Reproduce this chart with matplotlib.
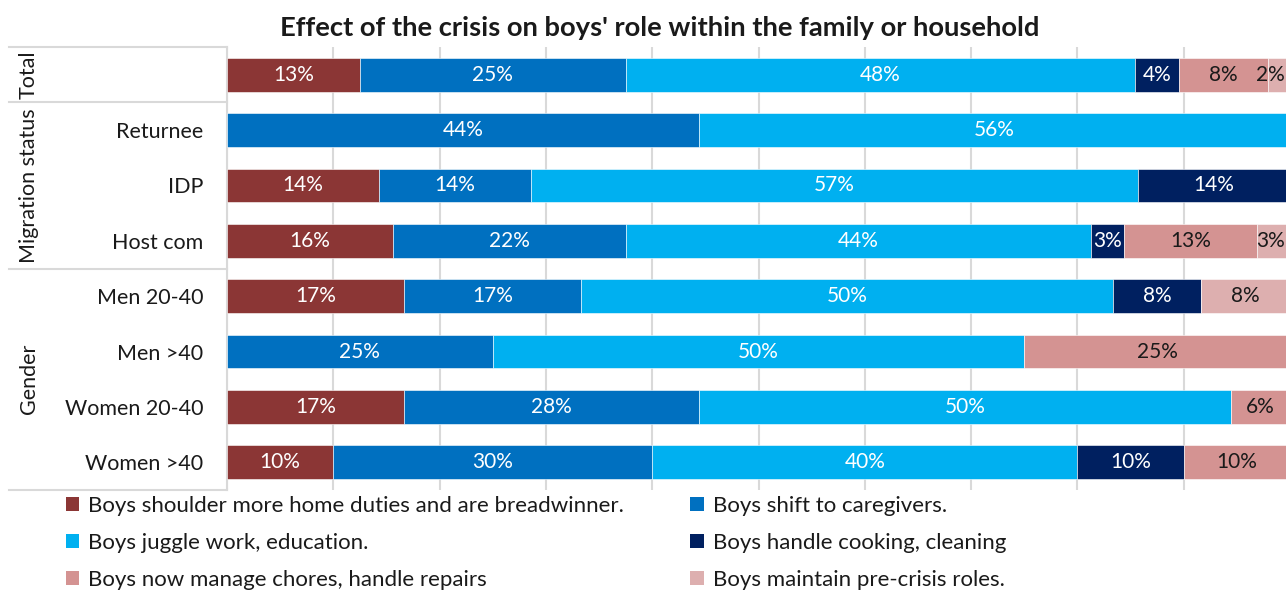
import matplotlib
matplotlib.use("Agg")
import matplotlib.pyplot as plt
import matplotlib.transforms as mtransforms
from matplotlib.patches import Patch
import numpy as np

plt.rcParams['font.family'] = ['Lato', 'DejaVu Sans']

title = "Effect of the crisis on boys' role within the family or household"

rows = ["Total", "Returnee", "IDP", "Host com",
        "Men 20-40", "Men >40", "Women 20-40", "Women >40"]

series = ["Boys shoulder more home duties and are breadwinner.",
          "Boys shift to caregivers.",
          "Boys juggle work, education.",
          "Boys handle cooking, cleaning",
          "Boys now manage chores, handle repairs",
          "Boys maintain pre-crisis roles."]

# respondent counts per row for each series
shoulder_duties = [6, 0, 1, 5, 2, 0, 3, 1]
caregivers      = [12, 4, 1, 7, 2, 1, 5, 3]
juggle_work     = [23, 5, 4, 14, 6, 2, 9, 4]
cooking         = [2, 0, 1, 1, 1, 0, 0, 1]
chores_repairs  = [4, 0, 0, 4, 0, 1, 1, 1]
pre_crisis      = [1, 0, 0, 1, 1, 0, 0, 0]

colors = ["#8B3635", "#0070C0", "#00B0F0", "#002060", "#D49392", "#DDAFAF"]
label_colors = ["white", "white", "white", "white", "#1a1a1a", "#1a1a1a"]

groups = [("Total", 0, 0), ("Migration status", 1, 3), ("Gender", 4, 7)]

counts = np.array([shoulder_duties, caregivers, juggle_work,
                   cooking, chores_repairs, pre_crisis], dtype=float)
pct = counts / counts.sum(axis=0) * 100

fig = plt.figure(figsize=(12.86, 5.90), dpi=100)
ax = fig.add_axes([227 / 1286, 1 - 490 / 590, 1063 / 1286, 443 / 590])

y = np.arange(len(rows))
left = np.zeros(len(rows))
for i in range(len(series)):
    bars = ax.barh(y, pct[i], left=left, height=0.61, color=colors[i],
                   edgecolor="white", linewidth=0.4, label=series[i], zorder=3)
    for j, b in enumerate(bars):
        v = pct[i][j]
        if v > 0:
            # keep labels of thin end segments inside the figure
            xc = min(left[j] + v / 2, 98.2)
            ax.text(xc, y[j], f"{int(np.floor(v + 0.5))}%",
                    ha="center", va="center", color=label_colors[i],
                    fontsize=15, zorder=4)
    left += pct[i]

ax.set_xlim(0, 100)
ax.set_ylim(len(rows) - 0.5, -0.5)
ax.set_xticks(np.arange(0, 101, 10))
ax.xaxis.grid(True, color="#D9D9D9", linewidth=1.5, zorder=0)
ax.tick_params(axis="x", length=0, labelbottom=False)
ax.tick_params(axis="y", length=0, pad=17)
ax.set_yticks(y)
ax.set_yticklabels(["" if r == "Total" else r for r in rows], fontsize=15.5, color="#1a1a1a")
for s in ["top", "right", "bottom"]:
    ax.spines[s].set_visible(False)
ax.spines["left"].set_color("#D9D9D9")
ax.spines["left"].set_linewidth(1.5)

# category axis separators and group labels
trans = mtransforms.blended_transform_factory(ax.transAxes, ax.transData)
x0 = (9 - 227) / 1063
for yy in [-0.5, 0.5, 3.5, 7.5]:
    ax.plot([x0, 0], [yy, yy], transform=trans, color="#D9D9D9",
            linewidth=1.5, clip_on=False)
gx = (29 - 227) / 1063
for name, a, b in groups:
    ax.text(gx, (a + b) / 2, name, transform=trans, rotation=90,
            ha="center", va="center", fontsize=15.5, color="#1a1a1a")

fig.text(660 / 1286, 1 - 28 / 590, title, ha="center", va="center",
         fontsize=19.7, fontweight="bold", color="#1a1a1a")

handles = [Patch(facecolor=c, label=s) for c, s in zip(colors, series)]
order = [0, 2, 4, 1, 3, 5]
leg = fig.legend([handles[k] for k in order], [series[k] for k in order],
                 ncol=2, loc="upper left", bbox_to_anchor=(50 / 1286, 1 - 480 / 590),
                 frameon=False, fontsize=16, handlelength=0.6, handleheight=0.6,
                 handletextpad=0.4, columnspacing=3.0, labelspacing=0.78,
                 borderaxespad=0.3)
for t in leg.get_texts():
    t.set_color("#1a1a1a")

fig.savefig("out.png", dpi=100)
